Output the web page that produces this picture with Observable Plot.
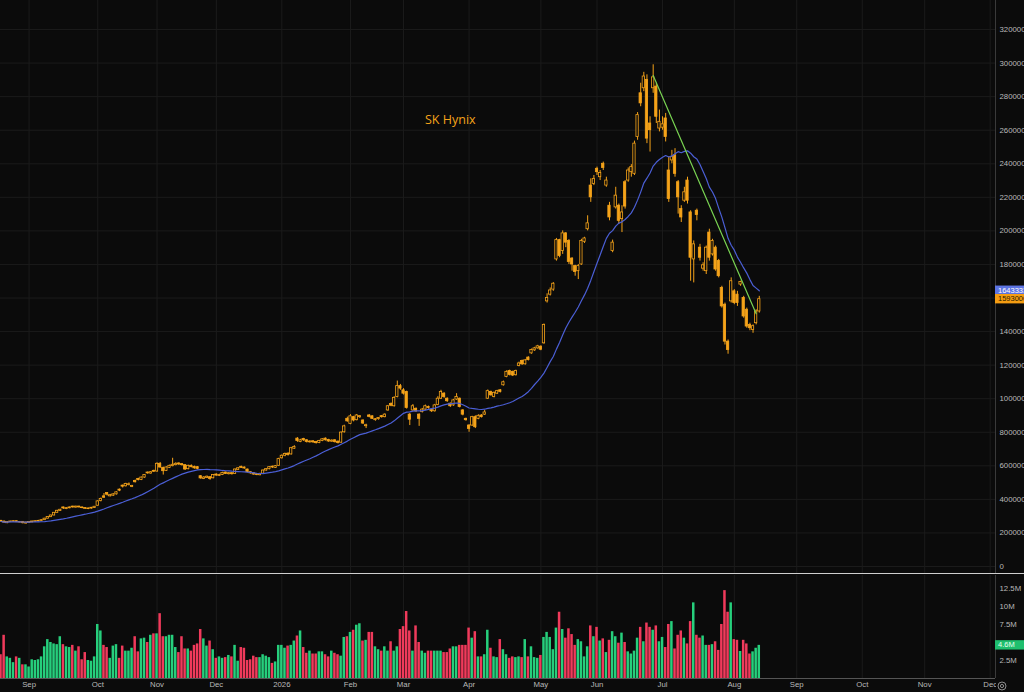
<!DOCTYPE html>
<html><head><meta charset="utf-8">
<script src="https://cdn.jsdelivr.net/npm/d3@7"></script>
<script src="https://cdn.jsdelivr.net/npm/@observablehq/plot@0.6"></script>
<style>
html,body{margin:0;padding:0;background:#0b0b0b;}
#wrap{position:relative;width:1024px;height:692px;overflow:hidden;background:#0b0b0b;font-family:"Liberation Sans",Arial,sans-serif;}
#price{height:573px;}
#vol{border-top:1px solid #cfcfcf;height:118px;}
#title{position:absolute;left:425px;top:111px;color:#f5a31a;font-size:12.5px;font-family:"Open Sans","Liberation Sans",Arial,sans-serif;}
svg{display:block;}
</style></head><body>
<div id="wrap"><div id="price"></div><div id="vol"></div><div id="title">SK Hynix</div></div>
<script>
// prices in thousands of KRW, one entry per trading day
const open = [272,268,258,264,266,270,262,266,256,260,263,266,269,271,276,285,294,304,320,331,352,342,347,357,351,357,352,348,342,345,349,362,390,418,438,418,422,430,458,482,478,486,474,510,522,515,530,560,554,570,566,612,588,570,588,598,604,614,610,604,580,600,594,592,538,522,528,532,526,548,540,546,560,550,556,552,576,594,590,578,562,556,550,544,553,572,580,595,588,600,645,660,672,668,702,762,742,760,752,740,746,742,736,748,762,754,744,752,744,738,800,880,850,890,872,890,870,836,900,895,872,878,896,890,930,968,955,1010,1075,1050,1040,905,930,940,905,920,935,950,935,925,962,1000,1030,1000,970,960,995,1000,930,880,840,840,890,880,900,905,1000,1040,1010,1030,1050,1080,1130,1165,1160,1140,1195,1225,1205,1245,1270,1288,1300,1310,1330,1580,1620,1650,1830,1945,1880,1985,1940,1835,1790,1760,1800,1935,2010,2270,2280,2370,2320,2400,2270,2150,1880,2140,2150,2070,2290,2300,2350,2340,2560,2820,2850,2900,2640,2850,2860,2610,2615,2670,2360,2420,2450,2290,2130,2180,2300,2110,1830,2120,1900,1775,1760,1990,1860,1900,1820,1660,1560,1340,1580,1640,1620,1680,1600,1530,1440,1410,1450,1520];
const high = [275,270,267,270,272,271,268,267,264,267,270,272,275,278,287,297,306,322,335,341,354,350,355,359,359,359,354,350,348,352,358,392,408,435,440,430,434,446,462,485,496,498,484,515,526,533,548,563,566,574,618,620,592,594,604,645,618,618,614,606,604,605,598,596,542,536,539,536,548,552,550,562,563,560,559,581,590,598,593,580,565,559,553,556,575,584,596,598,602,645,665,676,678,710,720,768,758,764,756,750,750,746,752,762,766,758,755,756,748,802,842,890,905,895,906,900,874,848,906,898,882,888,900,910,960,975,1012,1105,1085,1060,1045,912,965,945,910,942,962,956,940,966,1012,1050,1036,1005,975,996,1030,1004,935,884,845,895,898,904,905,930,1052,1045,1040,1050,1055,1105,1166,1170,1164,1170,1218,1230,1234,1250,1296,1306,1318,1315,1445,1625,1660,1692,1955,1950,2000,1990,1948,1840,1795,1800,1950,1962,2090,2310,2330,2380,2360,2410,2320,2170,1945,2260,2160,2150,2300,2375,2395,2535,2705,2880,2945,2930,2680,2990,2880,2720,2680,2700,2440,2480,2490,2300,2150,2260,2320,2120,1940,2130,1920,1810,1910,2010,1950,1910,1830,1670,1570,1350,1720,1650,1640,1700,1610,1540,1450,1440,1530,1610];
const low = [264,258,255,262,264,262,260,254,253,258,261,264,267,269,274,283,292,302,318,328,340,339,344,348,348,349,344,341,339,342,347,360,385,405,420,415,418,426,446,468,474,480,470,498,510,512,526,550,550,560,562,585,545,566,584,594,600,602,598,572,576,588,580,576,520,518,524,514,522,538,536,542,548,546,545,549,572,584,580,558,550,544,541,540,550,568,576,585,584,598,640,654,658,664,698,740,738,745,736,735,734,730,732,744,748,740,740,736,730,734,795,860,845,862,868,882,846,822,886,876,866,872,884,886,925,952,950,1005,1050,1022,938,840,925,918,835,915,930,938,918,920,958,995,1002,978,948,955,990,945,898,866,800,835,822,875,885,900,995,1015,1005,1025,1034,1075,1125,1136,1132,1135,1190,1198,1200,1225,1265,1282,1295,1286,1325,1570,1612,1640,1820,1840,1860,1900,1800,1760,1730,1710,1795,1925,2000,2170,2270,2330,2300,2360,2260,2060,1870,2130,2040,1990,2130,2290,2320,2330,2540,2740,2830,2520,2470,2820,2640,2590,2600,2530,2170,2400,2320,2100,2050,2170,2160,1700,1690,2060,1820,1760,1740,1820,1850,1760,1720,1540,1320,1265,1570,1560,1550,1670,1480,1420,1405,1390,1440,1510];
const close = [268,262,265,268,270,264,266,258,262,265,268,270,272,276,285,295,304,320,332,338,346,348,352,352,357,352,348,344,346,350,356,388,402,410,428,425,430,442,452,476,492,490,480,502,515,530,545,555,562,565,612,590,568,590,600,606,612,608,604,578,600,592,585,582,525,530,535,522,545,542,546,558,552,556,550,578,585,588,584,562,555,548,545,552,572,580,592,590,598,640,660,670,665,705,712,748,752,752,742,745,740,735,748,758,752,745,750,741,736,798,835,865,895,870,900,896,852,842,892,880,878,885,890,905,955,958,1005,1075,1060,1030,945,875,955,925,880,935,955,945,925,960,1000,1040,1010,985,955,990,1010,950,905,872,820,890,830,898,890,918,1045,1020,1035,1045,1040,1098,1160,1142,1138,1165,1210,1205,1228,1230,1290,1300,1312,1292,1440,1600,1645,1685,1945,1850,1985,1930,1815,1800,1755,1790,1940,1955,2045,2200,2310,2350,2345,2375,2300,2080,1930,2210,2060,2110,2145,2360,2380,2520,2690,2760,2920,2550,2600,2915,2680,2650,2635,2560,2190,2440,2340,2200,2080,2230,2180,1840,1920,2095,1840,1795,1900,1840,1940,1770,1730,1550,1340,1290,1700,1570,1570,1695,1490,1430,1420,1432,1520,1593];
// volume in millions of shares
const volume = [3.3,6.0,3.0,2.8,2.2,3.0,2.8,1.9,1.9,1.6,
2.6,2.5,2.6,3.0,4.4,5.4,5.0,4.8,4.7,5.8,
4.7,4.4,4.3,4.6,3.8,4.4,2.6,3.6,2.5,2.4,
3.0,7.5,6.6,4.6,4.3,2.8,4.5,4.7,2.8,4.5,
3.8,3.8,4.2,5.8,3.7,5.5,5.6,5.0,6.0,6.2,
6.2,9.0,5.8,5.8,6.0,6.0,4.3,3.6,5.8,4.1,
4.1,3.8,4.6,4.8,6.8,5.5,4.5,5.2,4.0,2.8,
3.0,2.8,2.9,3.2,3.0,4.6,2.4,4.3,4.2,2.5,
2.6,3.1,2.9,2.9,3.3,3.1,2.9,2.1,2.3,4.6,
4.6,4.2,4.5,4.6,5.2,5.9,6.6,4.3,3.5,3.8,
3.4,3.4,3.7,3.7,3.3,3.0,3.8,3.5,3.3,3.1,
5.7,5.8,6.4,6.7,7.4,7.6,5.2,5.3,6.4,6.4,
4.4,4.0,3.8,4.4,3.8,5.1,3.8,4.4,6.8,7.2,
9.3,6.6,3.8,7.3,5.0,3.8,3.5,3.8,3.8,3.8,
3.8,3.8,3.6,3.6,4.1,4.4,4.4,4.6,4.6,4.6,
7.0,5.6,6.5,3.0,3.0,3.3,6.7,4.2,3.0,2.9,
5.4,4.0,3.3,2.8,3.0,2.9,3.0,2.9,5.4,3.0,
4.4,2.9,2.8,3.2,5.7,6.4,5.7,4.0,7.0,9.2,
6.8,5.6,6.9,6.1,4.6,5.4,5.1,3.0,4.4,7.3,
5.8,7.1,5.2,5.5,3.6,5.3,6.5,5.8,4.9,6.3,
5.0,3.7,3.4,3.8,5.6,7.1,5.1,7.7,7.1,6.7,
7.3,5.1,5.7,4.3,7.5,7.9,4.1,6.0,6.6,5.6,
4.8,7.9,10.5,6.0,5.6,5.9,4.6,4.6,4.7,5.1,
3.9,7.5,12.2,9.2,10.5,5.4,5.3,3.75,5.3,4.8,
3.4,3.7,4.2,4.6];
// x positions are trading-day indices; month labels sit at the first bar of each month
const monthTickIndex = [9,31,50,69,90,112,129,150,173,191,212,235,255,276,296,317];
const monthLabels = ["Sep","Oct","Nov","Dec","2026","Feb","Mar","Apr","May","Jun","Jul","Aug","Sep","Oct","Nov","Dec"];
const priceTicks = d3.range(0, 3200001, 200000);
const volumeTicks = [2.5e6, 5e6, 7.5e6, 10e6, 12.5e6];
const trendLine = [{i: 209, v: 2926000}, {i: 242, v: 1506000}];
const maPeriod = 21;

const BG = "#0b0b0b", GRID = "#1b1b1b", ORANGE = "#f5a31a", BLUE = "#4b5fd6",
      TREND = "#79d352", UPV = "#26cf7c", DNV = "#f03a5b", TXT = "#b9b9b9";
const FONT = "'Liberation Sans', Arial, sans-serif";
const xDomain = [-0.16, 318.7];
const priceDomain = [-41700, 3373000];
const volDomain = [0, 14.3e6];

const bars = close.map((c, i) => ({
  i, o: open[i] * 1000, h: high[i] * 1000, l: low[i] * 1000, c: c * 1000,
  v: volume[i] * 1e6, up: c >= open[i]
}));
const last = bars[bars.length - 1];
const maLast = d3.mean(close.slice(-maPeriod)) * 1000;

// tick labels hidden behind the value badges (as on the price scale of the reference)
const pxPerPrice = 573 / (priceDomain[1] - priceDomain[0]);
const pxPerVol = 103 / (volDomain[1] - volDomain[0]);
const shownPriceTicks = priceTicks.filter(t => Math.min(Math.abs(t - last.c), Math.abs(t - maLast)) * pxPerPrice > 9);
const shownVolTicks = volumeTicks.filter(t => Math.abs(t - last.v) * pxPerVol > 8);

const baseStyle = {background: BG, color: TXT, fontFamily: FONT, fontSize: "7.8px", overflow: "visible"};

const price = Plot.plot({
  width: 1024, height: 573, marginTop: 0, marginBottom: 0, marginLeft: 0, marginRight: 29,
  style: baseStyle,
  x: {domain: xDomain, axis: null},
  y: {domain: priceDomain, axis: null},
  marks: [
    Plot.ruleY(priceTicks, {stroke: GRID, strokeWidth: 1}),
    Plot.ruleX(monthTickIndex, {stroke: GRID, strokeWidth: 1}),
    Plot.ruleX(bars, {x: "i", y1: "l", y2: "h", stroke: ORANGE, strokeWidth: 1}),
    Plot.rect(bars, {x1: d => d.i - 0.37, x2: d => d.i + 0.37, y1: "o", y2: "c",
      fill: d => d.up ? BG : ORANGE, stroke: ORANGE, strokeWidth: 0.8}),
    Plot.lineY(bars, Plot.windowY({k: maPeriod, anchor: "end"}, {x: "i", y: "c", stroke: BLUE, strokeWidth: 1.2})),
    Plot.line(trendLine, {x: "i", y: "v", stroke: TREND, strokeWidth: 1.2}),
    Plot.ruleX([xDomain[1]], {stroke: "#3a3a3a"}),
    Plot.axisY(shownPriceTicks, {anchor: "right", label: null, tickSize: 0, tickPadding: 4, tickFormat: d3.format("d")})
  ]
});
document.getElementById("price").appendChild(price);

const vol = Plot.plot({
  width: 1024, height: 118, marginTop: 1, marginBottom: 14, marginLeft: 0, marginRight: 29,
  style: baseStyle,
  x: {domain: xDomain, axis: null},
  y: {domain: volDomain, axis: null},
  marks: [
    Plot.ruleX(monthTickIndex, {stroke: GRID, strokeWidth: 1}),
    Plot.rect(bars, {x1: d => d.i - 0.4, x2: d => d.i + 0.4, y1: 0, y2: "v", fill: d => d.up ? UPV : DNV}),
    Plot.ruleY([0], {stroke: "#555"}),
    Plot.ruleX([xDomain[1]], {stroke: "#3a3a3a"}),
    Plot.axisY(shownVolTicks, {anchor: "right", label: null, tickSize: 0, tickPadding: 4, tickFormat: d => (d / 1e6) + "M"}),
    Plot.axisX(monthTickIndex, {anchor: "bottom", label: null, tickSize: 0, tickPadding: 3,
      tickFormat: d => monthLabels[monthTickIndex.indexOf(d)]})
  ]
});
document.getElementById("vol").appendChild(vol);

// value badges on the right scale
function badge(svg, yPix, label, bg, fg) {
  const g = d3.select(svg).append("g").attr("text-anchor", "start");
  g.append("rect").attr("x", 995).attr("y", yPix - 4.7).attr("width", 29).attr("height", 9.4).attr("fill", bg);
  g.append("text").attr("x", 998).attr("y", yPix).attr("dy", "0.35em").attr("fill", fg)
    .attr("font-size", 7.5).attr("font-family", FONT).text(label);
}
const yP = price.scale("y");
badge(price, yP.apply(maLast), String(Math.round(maLast)), "#5d74e3", "#ffffff");
badge(price, yP.apply(last.c), String(last.c), "#f59d12", "#2a1a00");
const yV = vol.scale("y");
badge(vol, yV.apply(last.v), (last.v / 1e6) + "M", "#1fbf6e", "#e8fff0");

// clip the last month label under the price scale and add the settings glyph
const sv = d3.select(vol);
sv.append("rect").attr("x", 996).attr("y", 105).attr("width", 28).attr("height", 13).attr("fill", BG);
sv.append("circle").attr("cx", 1002).attr("cy", 112).attr("r", 4).attr("fill", "none").attr("stroke", "#9a9a9a").attr("stroke-width", 0.9);
sv.append("circle").attr("cx", 1002).attr("cy", 112).attr("r", 1.6).attr("fill", "none").attr("stroke", "#9a9a9a").attr("stroke-width", 0.9);
</script>
</body></html>
